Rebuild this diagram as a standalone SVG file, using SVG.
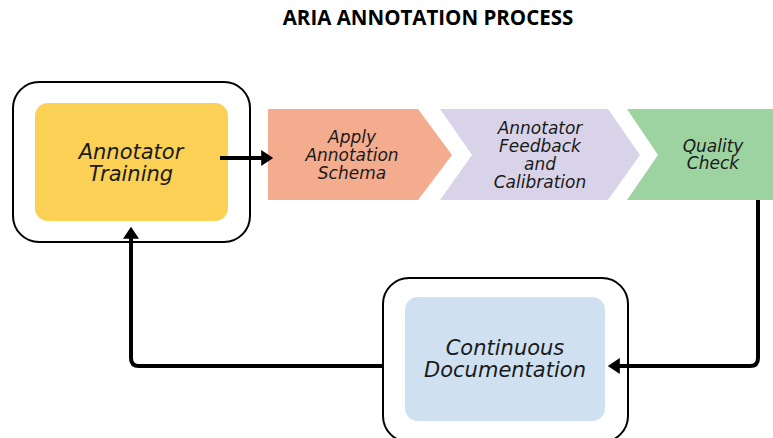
<svg xmlns="http://www.w3.org/2000/svg" width="773" height="438" viewBox="0 0 773 438">
<defs>
<style>
.title{font-family:"Open Sans","Liberation Sans",sans-serif;font-weight:bold;font-size:20.5px;fill:#000}
.big{font-family:"DejaVu Sans","Liberation Sans",sans-serif;font-style:italic;font-size:21px;fill:#1a1a1a;text-anchor:middle}
.sm{font-family:"DejaVu Sans","Liberation Sans",sans-serif;font-style:italic;font-size:17px;fill:#1a1a1a;text-anchor:middle}
.outer{fill:#fff;stroke:#000;stroke-width:2}
.conn{fill:none;stroke:#000;stroke-width:4;stroke-linejoin:round}
</style>
<marker id="ah" markerWidth="4" markerHeight="4" refX="2.2" refY="2" orient="auto" markerUnits="strokeWidth">
<path d="M0,0 L3,2 L0,4 Z" fill="#000"/>
</marker>
</defs>
<rect width="773" height="438" fill="#fff"/>
<text class="title" x="428" y="25" text-anchor="middle">ARIA ANNOTATION PROCESS</text>

<g id="annotator-training">
<rect class="outer" x="13" y="82" width="237" height="160" rx="26"/>
<rect x="35" y="103" width="193" height="118" rx="13" fill="#FAD155"/>
<text class="big" x="131" y="159">Annotator</text>
<text class="big" x="131" y="181">Training</text>
</g>

<g id="apply-schema">
<polygon points="268,109 418,109 452,155 418,200 268,200" fill="#F4AC8F"/>
<text class="sm" x="352" y="143">Apply</text>
<text class="sm" x="352" y="161">Annotation</text>
<text class="sm" x="352" y="179">Schema</text>
</g>

<g id="feedback-calibration">
<polygon points="440,109 608,109 640,155 608,200 440,200 472,155" fill="#D9D3E9"/>
<text class="sm" x="540" y="134">Annotator</text>
<text class="sm" x="540" y="152">Feedback</text>
<text class="sm" x="540" y="170">and</text>
<text class="sm" x="540" y="188">Calibration</text>
</g>

<g id="quality-check">
<polygon points="627,109 773,109 773,200 627,200 658,155" fill="#9DD3A0"/>
<text class="sm" x="713" y="152">Quality</text>
<text class="sm" x="713" y="169">Check</text>
</g>

<g id="continuous-documentation">
<rect class="outer" x="383" y="278" width="245" height="164" rx="26"/>
<rect x="405" y="297" width="200" height="124" rx="13" fill="#CFE0F1"/>
<text class="big" x="505" y="355">Continuous</text>
<text class="big" x="505" y="377">Documentation</text>
</g>

<g id="connectors">
<path class="conn" d="M220,158 L270,158" marker-end="url(#ah)"/>
<path class="conn" d="M758,200 L758,358 Q758,366 750,366 L611,366" marker-end="url(#ah)"/>
<path class="conn" d="M383,366 L139,366 Q131,366 131,358 L131,230" marker-end="url(#ah)"/>
</g>
</svg>
